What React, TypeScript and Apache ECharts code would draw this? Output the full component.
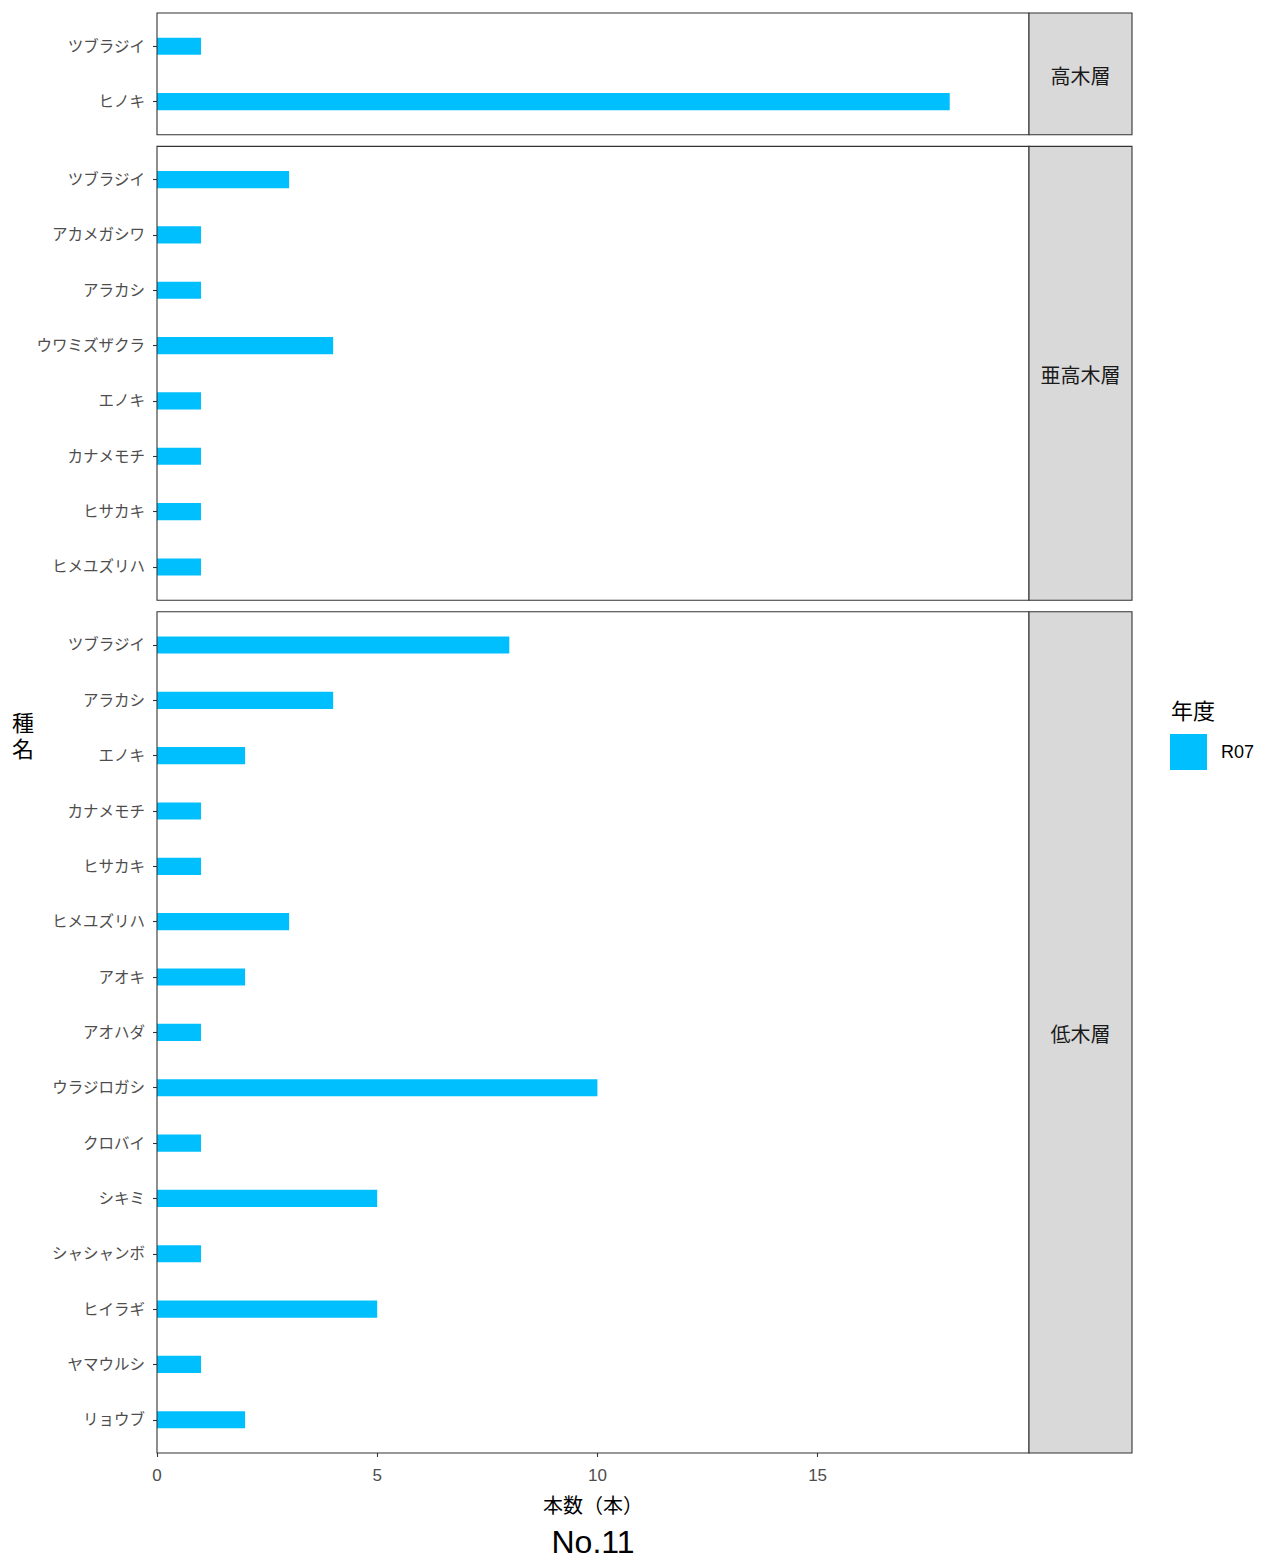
import React, { useEffect, useRef } from "react";
import * as echarts from "echarts";

const layers = ["高木層", "亜高木層", "低木層"];

const speciesHigh = ["ツブラジイ", "ヒノキ"];
const countsHigh = [1, 18];

const speciesSub = ["ツブラジイ", "アカメガシワ", "アラカシ", "ウワミズザクラ", "エノキ", "カナメモチ", "ヒサカキ", "ヒメユズリハ"];
const countsSub = [3, 1, 1, 4, 1, 1, 1, 1];

const speciesLow = ["ツブラジイ", "アラカシ", "エノキ", "カナメモチ", "ヒサカキ", "ヒメユズリハ", "アオキ", "アオハダ", "ウラジロガシ", "クロバイ", "シキミ", "シャシャンボ", "ヒイラギ", "ヤマウルシ", "リョウブ"];
const countsLow = [8, 4, 2, 1, 1, 3, 2, 1, 10, 1, 5, 1, 5, 1, 2];

const yearName = "R07";
const xTicks = [0, 5, 10, 15];
const xMax = 19.8;
const xTitle = "本数（本）";
const yTitle = "種\n名";
const legendTitle = "年度";
const plotTitle = "No.11";

const FONT = "'Liberation Sans', 'Noto Sans CJK JP', sans-serif";

export default function App() {
  const ref = useRef<HTMLDivElement>(null);
  useEffect(() => {
    if (!ref.current) return;
    const chart = echarts.init(ref.current, null, { renderer: "svg" });
    const speciesSets = [speciesHigh, speciesSub, speciesLow];
    const countSets = [countsHigh, countsSub, countsLow];

    const left = 157;
    const right = 1029;
    const stripW = 103;
    const top0 = 13;
    const bottom = 1453;
    const gap = 11.6;
    const totalUnits = speciesSets.reduce((s, a) => s + a.length + 0.2, 0);
    const u = (bottom - top0 - gap * 2) / totalUnits;

    const panels: { top: number; h: number; n: number }[] = [];
    let t = top0;
    speciesSets.forEach((sp) => {
      const h = (sp.length + 0.2) * u;
      panels.push({ top: t, h, n: sp.length });
      t += h + gap;
    });

    const grids = panels.map((p) => ({
      left,
      width: right - left,
      top: p.top + 0.1 * u,
      height: p.n * u,
      containLabel: false,
      outerBoundsMode: "none",
    }));

    const xAxes = panels.map((p, i) => {
      const last = i === panels.length - 1;
      return {
        type: "value",
        gridIndex: i,
        min: 0,
        max: xMax,
        show: last,
        offset: 0.1 * u,
        splitLine: { show: false },
        axisLine: { show: false },
        axisTick: {
          show: last,
          customValues: xTicks,
          length: 4,
          lineStyle: { color: "#333333", width: 1.1 },
        },
        axisLabel: {
          show: last,
          customValues: xTicks,
          fontSize: 17,
          color: "#4D4D4D",
          fontFamily: FONT,
          margin: 14,
        },
        name: last ? xTitle : "",
        nameLocation: "middle",
        nameGap: 43,
        nameTextStyle: { fontSize: 20, color: "#000000", fontFamily: FONT },
      };
    });

    const yAxes = speciesSets.map((sp, i) => ({
      type: "category",
      gridIndex: i,
      data: sp,
      inverse: true,
      axisLine: { show: false },
      axisTick: { show: true, alignWithLabel: true, length: 4, lineStyle: { color: "#333333", width: 1.1 } },
      axisLabel: { fontSize: 15.5, color: "#4D4D4D", fontFamily: FONT, margin: 12, padding: [6, 0, 0, 0] },
      splitLine: { show: false },
    }));

    const series = countSets.map((c, i) => ({
      type: "bar",
      name: yearName,
      xAxisIndex: i,
      yAxisIndex: i,
      data: c,
      barWidth: "31%",
      itemStyle: { color: "#00BFFF" },
    }));

    const graphics: any[] = [];
    panels.forEach((p, i) => {
      graphics.push({
        type: "rect",
        z: 100,
        shape: { x: left, y: p.top, width: right - left, height: p.h },
        style: { fill: "none", stroke: "#333333", lineWidth: 1.1 },
      });
      graphics.push({
        type: "rect",
        z: 100,
        shape: { x: right, y: p.top, width: stripW, height: p.h },
        style: { fill: "#D9D9D9", stroke: "#333333", lineWidth: 1.1 },
      });
      graphics.push({
        type: "text",
        z: 101,
        x: right + stripW / 2,
        y: p.top + p.h / 2 + 3,
        style: {
          text: layers[i],
          fontSize: 20,
          fill: "#1A1A1A",
          fontFamily: FONT,
          align: "center",
          verticalAlign: "middle",
        },
      });
    });
    graphics.push({
      type: "text",
      x: 23,
      y: 736,
      style: {
        text: yTitle,
        fontSize: 22,
        lineHeight: 26,
        fill: "#000000",
        fontFamily: FONT,
        align: "center",
        verticalAlign: "middle",
      },
    });
    graphics.push({
      type: "text",
      x: 1171,
      y: 711,
      style: {
        text: legendTitle,
        fontSize: 22,
        fill: "#000000",
        fontFamily: FONT,
        align: "left",
        verticalAlign: "middle",
      },
    });
    graphics.push({
      type: "text",
      x: (left + right) / 2,
      y: 1526,
      style: {
        text: plotTitle,
        fontSize: 32,
        fill: "#000000",
        fontFamily: FONT,
        align: "center",
        verticalAlign: "top",
      },
    });

    chart.setOption({
      animation: false,
      backgroundColor: "#FFFFFF",
      grid: grids,
      xAxis: xAxes,
      yAxis: yAxes,
      series,
      legend: {
        data: [yearName],
        left: 1170,
        top: 734,
        padding: 0,
        orient: "vertical",
        icon: "rect",
        itemWidth: 37,
        itemHeight: 36,
        selectedMode: false,
        textStyle: { fontSize: 18, color: "#000000", fontFamily: FONT, padding: [7, 0, 0, 9] },
      },
      graphic: graphics,
    });
    return () => chart.dispose();
  }, []);
  return (
    <div
      ref={ref}
      style={{ position: "fixed", left: 0, top: 0, width: 1263, height: 1559, background: "#fff" }}
    />
  );
}
